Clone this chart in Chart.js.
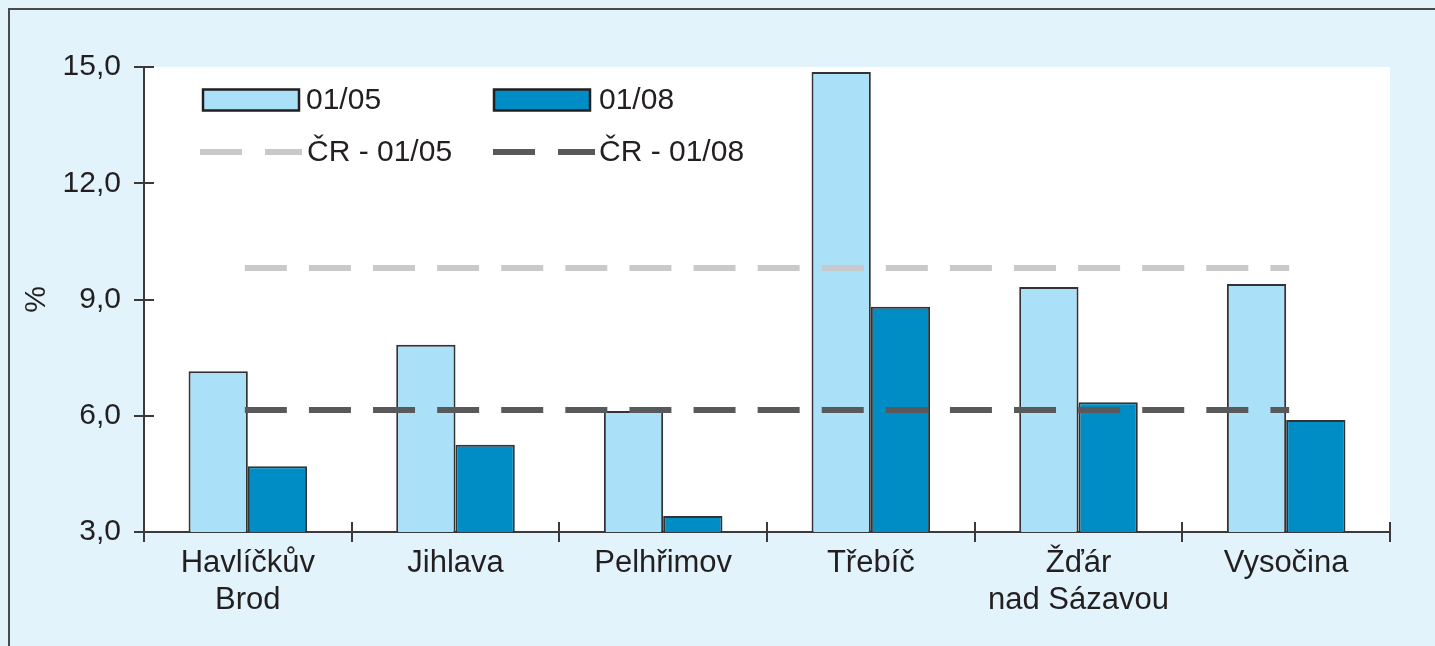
<!DOCTYPE html>
<html>
<head>
<meta charset="utf-8">
<script src="https://cdn.jsdelivr.net/npm/chart.js@4/dist/chart.umd.min.js"></script>
<style>
html,body{margin:0;padding:0;background:#e2f3fb;}
canvas{display:block;}
</style>
</head>
<body>
<canvas id="c" width="1435" height="646"></canvas>
<script>
const categories = [["Havlíčkův","Brod"], "Jihlava", "Pelhřimov", "Třebíč", ["Žďár","nad Sázavou"], "Vysočina"];
const values0105 = [7.15, 7.83, 6.12, 14.87, 9.32, 9.40];
const values0108 = [4.70, 5.25, 3.41, 8.81, 6.35, 5.89];
const cr0105 = [9.81, 9.81, 9.81, 9.81, 9.81, 9.81];
const cr0108 = [6.15, 6.15, 6.15, 6.15, 6.15, 6.15];
const yTicks = [3, 6, 9, 12, 15];
const seriesLabels = ["01/05", "01/08", "ČR - 01/05", "ČR - 01/08"];

const FONT = "'Liberation Sans', Arial, Helvetica, sans-serif";
const TXT = '#231f20';
const AXIS = '#3a3a3a';

const framePlugin = {
  id: 'frame',
  beforeDraw(chart) {
    const {ctx, chartArea: a, width, height} = chart;
    ctx.save();
    ctx.fillStyle = '#e2f3fb';
    ctx.fillRect(0, 0, width, height);
    ctx.fillStyle = '#ffffff';
    ctx.fillRect(a.left, a.top, a.right - a.left, a.bottom - a.top);
    ctx.strokeStyle = '#4a4a4a';
    ctx.lineWidth = 2;
    ctx.beginPath();
    ctx.moveTo(9, height);
    ctx.lineTo(9, 9);
    ctx.lineTo(width, 9);
    ctx.stroke();
    ctx.restore();
  },
  afterDraw(chart) {
    const {ctx, chartArea: a, scales} = chart;
    ctx.save();
    ctx.strokeStyle = AXIS;
    ctx.lineWidth = 2;
    yTicks.forEach(v => {
      const y = Math.round(scales.y.getPixelForValue(v));
      ctx.beginPath(); ctx.moveTo(a.left, y); ctx.lineTo(a.left + 10, y); ctx.stroke();
    });
    for (let i = 0; i <= categories.length; i++) {
      const x = Math.round(scales.x.getPixelForValue(i - 0.5));
      ctx.beginPath(); ctx.moveTo(x, a.bottom); ctx.lineTo(x, a.bottom - 10); ctx.stroke();
    }
    const ds = chart.data.datasets;
    ctx.font = '30px ' + FONT;
    ctx.fillStyle = TXT;
    ctx.textBaseline = 'middle';
    const items = [
      {i: 0, x: 203, y: 100, tx: 306},
      {i: 1, x: 494, y: 100, tx: 599},
      {i: 2, x: 200, y: 152, tx: 307},
      {i: 3, x: 493, y: 152, tx: 599}
    ];
    items.forEach(it => {
      const d = ds[it.i];
      if (d.type === 'line') {
        ctx.strokeStyle = d.borderColor;
        ctx.lineWidth = d.borderWidth;
        ctx.setLineDash([]);
        ctx.lineCap = 'butt';
        ctx.beginPath(); ctx.moveTo(it.x, it.y); ctx.lineTo(it.x + 42, it.y);
        ctx.moveTo(it.x + 65, it.y); ctx.lineTo(it.x + 102, it.y); ctx.stroke();
      } else {
        ctx.fillStyle = d.backgroundColor;
        ctx.fillRect(it.x, it.y - 10.5, 96, 21);
        ctx.strokeStyle = '#231f20';
        ctx.lineWidth = 2.5;
        ctx.strokeRect(it.x, it.y - 10.5, 96, 21);
      }
      ctx.fillStyle = TXT;
      ctx.fillText(d.label, it.tx, it.y + 1);
    });
    ctx.restore();
  }
};

new Chart(document.getElementById('c'), {
  data: {
    labels: categories,
    datasets: [
      {type: 'bar', label: seriesLabels[0], data: values0105, backgroundColor: '#abe0f9', borderColor: '#333333', borderWidth: 2, order: 2},
      {type: 'bar', label: seriesLabels[1], data: values0108, backgroundColor: '#008cc4', borderColor: '#333333', borderWidth: 2, order: 2},
      {type: 'line', label: seriesLabels[2], data: cr0105, borderColor: '#c8c9ca', borderWidth: 6, borderDash: [36, 28.1], borderCapStyle: 'square', pointRadius: 0, fill: false, order: 1},
      {type: 'line', label: seriesLabels[3], data: cr0108, borderColor: '#58595b', borderWidth: 6, borderDash: [36, 28.1], borderCapStyle: 'square', pointRadius: 0, fill: false, order: 0}
    ]
  },
  options: {
    responsive: false,
    animation: false,
    layout: {padding: {left: 0, right: 45, top: 67, bottom: 0}},
    datasets: {bar: {categoryPercentage: 0.571, barPercentage: 1.0}},
    plugins: {legend: {display: false}, tooltip: {enabled: false}},
    scales: {
      x: {
        offset: true,
        grid: {display: true, drawOnChartArea: false, offset: true, tickLength: 10, color: AXIS, lineWidth: 2},
        border: {display: true, color: AXIS, width: 2},
        ticks: {color: TXT, font: {family: FONT, size: 31, lineHeight: 1.2}, padding: 3, maxRotation: 0, autoSkip: false},
        afterFit(s) { s.height = 114; }
      },
      y: {
        min: 3, max: 15,
        afterBuildTicks(s) { s.ticks = yTicks.map(v => ({value: v})); },
        grid: {display: true, drawOnChartArea: false, tickLength: 10, color: AXIS, lineWidth: 2},
        border: {display: true, color: AXIS, width: 2},
        ticks: {color: TXT, font: {family: FONT, size: 30}, padding: 13,
          callback: v => v.toFixed(1).replace('.', ',')},
        title: {display: true, text: '%', color: TXT, font: {family: FONT, size: 30, lineHeight: 1.2}, padding: {top: 19, bottom: 0}},
        afterFit(s) { s.width = 144; }
      }
    }
  },
  plugins: [framePlugin]
});
</script>
</body>
</html>
